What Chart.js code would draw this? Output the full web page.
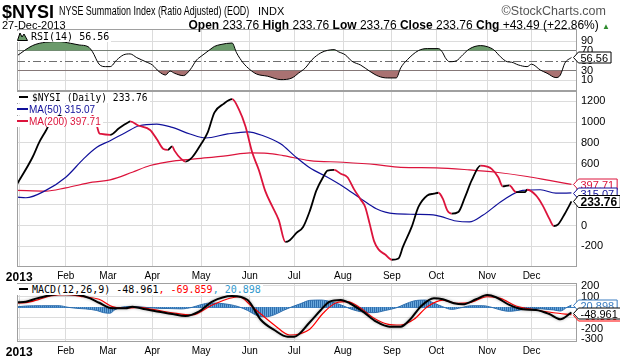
<!DOCTYPE html>
<html>
<head>
<meta charset="utf-8">
<script src="https://cdn.jsdelivr.net/npm/chart.js@4.4.1/dist/chart.umd.min.js"></script>
<style>
  body { margin: 0; width: 620px; height: 360px; background: #fff; overflow: hidden; position: relative; font-family: "Liberation Sans", Arial, sans-serif; }
  canvas { position: absolute; left: 0; top: 0; }
  .t { position: absolute; white-space: nowrap; line-height: 1; z-index: 5; }
  .lg { position: absolute; left: 17px; white-space: nowrap; font: 10px "DejaVu Sans Mono", monospace; line-height: 11px; background: #fff; padding-right: 2px; z-index: 5; }
  .lg.p { font: 10px "Liberation Sans", Arial, sans-serif; line-height: 11px; }
  .dash { display: inline-block; height: 2px; vertical-align: 3px; }
</style>
</head>
<body>
<canvas id="rsi" width="620" height="360"></canvas>
<canvas id="main" width="620" height="360"></canvas>
<canvas id="macd" width="620" height="360"></canvas>

<div class="t" style="left:2px;top:3px;font-weight:bold;font-size:18px;">$NYSI</div>
<div class="t" style="left:59px;top:5px;font-size:12px;transform:scaleX(0.745);transform-origin:0 0;">NYSE Summation Index (Ratio Adjusted) (EOD)</div>
<div class="t" style="left:258px;top:6px;font-size:11px;">INDX</div>
<div class="t" style="right:14px;top:5px;font-size:12.5px;color:#555;">&copy;StockCharts.com</div>
<div class="t" style="left:2px;top:20px;font-size:11px;">27-Dec-2013</div>
<div class="t" style="right:10px;top:19px;font-size:12px;"><b>Open</b> 233.76 <b>High</b> 233.76 <b>Low</b> 233.76 <b>Close</b> 233.76 <b>Chg</b> +43.49 (+22.86%) <span style="color:#2e8b2e;font-size:8px;">&#9650;</span></div>

<div class="lg" style="top:31px;"><svg width="11" height="9" style="vertical-align:-1px;margin-right:3px"><polygon points="0.5,8.5 3,1 5,5 7,2 10.5,8.5" fill="#6b9b6b" stroke="#000" stroke-width="1"/></svg>RSI(14) 56.56</div>
<div class="lg" style="top:92px;font-size:9.6px;"><span class="dash" style="width:9px;background:#000;margin:0 4px 0 2px;"></span>$NYSI (Daily) 233.76</div>
<div class="lg p" style="top:104px;color:#10109a;"><span class="dash" style="width:11px;background:#10109a;margin-right:1px;"></span>MA(50) 315.07</div>
<div class="lg p" style="top:115.5px;color:#dc143c;"><span class="dash" style="width:11px;background:#dc143c;margin-right:1px;"></span>MA(200) 397.71</div>
<div class="lg" style="top:284px;"><span class="dash" style="width:9px;background:#000;margin:0 4px 0 2px;"></span>MACD(12,26,9) -48.961<span style="color:#ff0000">, -69.859</span><span style="color:#3399cc">, 20.898</span></div>

<script>
// trading-day index (0 = 2 Jan 2013) of each month start
const monthStarts = [0, 21, 40, 60, 82, 104, 124, 146, 168, 188, 211, 231];
const monthLabels = ["2013", "Feb", "Mar", "Apr", "May", "Jun", "Jul", "Aug", "Sep", "Oct", "Nov", "Dec"];

const priceTicks = [-200, 0, 200, 400, 600, 800, 1000, 1200];
const rsiTicks = [10, 30, 50, 70, 90];
const macdTicks = [-300, -200, -100, 0, 100, 200];

// $NYSI daily (sampled)
const priceDays = [-1, 6, 9, 12, 14, 18, 23, 27, 31, 35, 36, 37, 41, 45, 49, 50, 54, 59, 62, 65,
  67, 69, 70, 73, 75, 78, 82, 85, 88, 92, 96, 99, 102, 105, 108, 111, 114, 117, 120, 122,
  125, 128, 131, 134, 137, 139, 142, 145, 148, 151, 154, 156, 158, 160, 162, 165, 168, 171, 173, 177,
  180, 184, 187, 189, 191, 193, 195, 198, 201, 204, 208, 211, 213, 216, 218, 221, 224, 228, 229, 233,
  236, 239, 241, 243, 246, 249];
const priceVals = [400, 660, 804, 916, 996, 1060, 1110, 1140, 1130, 964, 895, 885, 877, 940, 996, 1006, 964, 923, 836, 740,
  731, 765, 724, 644, 618, 660, 788, 900, 1092, 1173, 1221, 1125, 960, 710, 540, 330, 190, 55, -158, -141,
  -71, -13, 140, 340, 467, 532, 538, 500, 467, 350, 250, 180, 19, -150, -230, -280, -330, -317, -206, -10,
  180, 291, 308, 317, 260, 147, 115, 131, 275, 436, 580, 570, 548, 467, 378, 388, 323, 323, 346, 291,
  195, 67, -4, 12, 115, 233.76];

const ma50Days = [-1, 3, 12, 21, 29, 35, 41, 48, 54, 62, 69, 77, 84, 94, 103, 110, 118, 124, 131, 139,
  146, 154, 161, 169, 179, 188, 197, 203, 209, 218, 227, 235, 242, 249];
const ma50Vals = [275, 269, 340, 467, 644, 756, 820, 900, 964, 981, 948, 885, 846, 885, 906, 868, 788, 676, 558, 467,
  378, 260, 163, 115, 109, 99, 44, 35, 99, 243, 340, 346, 313, 315.07];

const ma200Days = [-1, 12, 21, 33, 41, 51, 59, 71, 82, 94, 104, 112, 119, 131, 146, 161, 172, 188, 203, 215, 229, 239, 249];
const ma200Vals = [340, 333, 365, 419, 442, 515, 580, 628, 650, 676, 702, 698, 676, 628, 612, 589, 563, 558, 538, 515, 474, 436, 397.71];

const rsiDays = [-1, 6, 12, 18, 23, 27, 31, 33, 36, 39, 41, 44, 47, 50, 53, 57, 60, 63, 66, 68,
  70, 74, 77, 80, 82, 86, 88, 91, 96, 98, 101, 104, 107, 112, 118, 123, 126, 129, 132, 136,
  139, 142, 144, 147, 150, 154, 158, 162, 166, 170, 172, 175, 180, 184, 189, 191, 192, 194, 197, 200,
  203, 208, 211, 214, 217, 220, 222, 225, 229, 231, 235, 238, 242, 244, 246, 249];
const rsiVals = [60, 80.7, 87.6, 88.8, 85.5, 82, 78.6, 68.5, 43, 38, 38, 51.6, 61.8, 63.8, 56.3, 48, 41.5, 28, 21, 29,
  24.6, 19.7, 31.3, 51.6, 59, 72.5, 79, 83, 86, 66, 45.5, 32, 23, 18.5, 11.6, 15, 25, 35.4, 52, 66,
  71, 72.5, 68, 62, 49, 41, 28.7, 18.5, 15, 15, 35.4, 52, 70.5, 74.6, 74.6, 66, 57, 48, 49.6, 62,
  74, 80.7, 78.6, 72, 58, 48, 47, 41.5, 38, 43, 31, 24.6, 15.7, 21, 45, 56.56];

const macdDays = [-1, 3, 8, 11, 18, 27, 32, 36, 42, 48, 51, 57, 63, 69, 75, 81, 87, 96, 103, 109,
  115, 121, 124, 131, 136, 140, 145, 149, 155, 161, 167, 172, 176, 181, 187, 191, 196, 200, 206, 211,
  215, 221, 227, 233, 239, 244, 249];
const macdVals = [47, 53, 84, 99, 125, 115, 84, 43, -9, -9, 6, -19, -41, -63, -82, -41, 53, 106, 68, -119,
  -213, -276, -276, -140, -25, 53, 68, 38, -41, -135, -182, -182, -119, 6, 84, 75, 38, 28, 75, 115,
  94, 22, -19, -25, -63, -113, -48.961];

const signalDays = [-1, 3, 9, 14, 21, 29, 36, 42, 47, 54, 60, 69, 78, 87, 99, 105, 115, 122, 131, 137,
  143, 148, 154, 160, 166, 172, 178, 184, 191, 197, 203, 211, 217, 224, 233, 241, 249];
const signalVals = [40, 43, 75, 106, 118, 99, 75, 6, -9, 0, -19, -51, -72, 22, 99, 6, -166, -260, -205, -56,
  43, 53, -9, -103, -157, -166, -113, 6, 68, 38, 43, 99, 84, 12, -25, -51, -69.859];

const histDays = [-1, 3, 10, 18, 22, 26, 30, 35, 38, 41, 43, 46, 50, 54, 58, 63, 68, 73, 78, 82,
  86, 90, 95, 99, 103, 107, 111, 115, 119, 123, 127, 131, 136, 141, 146, 150, 155, 160, 165, 170,
  174, 178, 183, 187, 191, 195, 199, 204, 209, 213, 217, 221, 226, 231, 236, 241, 244, 247, 249];
const histVals = [5, 12, 15, 15, 0, -10, -15, -30, -50, -55, -25, 0, 8, 5, -3, -10, -12, -15, 0, 25,
  40, 38, 25, 5, -30, -75, -90, -70, -30, 5, 35, 65, 68, 50, 15, -20, -45, -50, -30, -5,
  30, 60, 68, 40, 5, -20, -5, 15, 15, 0, -25, -38, -25, -10, -15, -25, -35, 0, 20.898];

const RED = "#dc143c";
const BLUE = "#10109a";
const GRID = "#dcdcdc";
const last = (a) => a[a.length - 1];
const pts = (d, v) => d.map((x, i) => ({ x: x, y: v[i] }));

Chart.defaults.font.family = '"Liberation Sans", Arial, sans-serif';
Chart.defaults.color = "#000";

function xAxis(showLabels) {
  return {
    type: "linear",
    min: -1,
    max: 251.5,
    afterBuildTicks: (s) => { s.ticks = monthStarts.map((v) => ({ value: v })); },
    afterFit: (s) => { s.height = showLabels ? 16 : 0; },
    grid: { color: GRID, drawTicks: false },
    border: { display: false },
    ticks: {
      display: showLabels,
      autoSkip: false,
      maxRotation: 0,
      padding: 3,
      callback: (v) => monthLabels[monthStarts.indexOf(v)],
      font: (c) => (c.index === 0 ? { size: 12, weight: "bold" } : { size: 10 }),
    },
  };
}

function yAxis(min, max, ticks, gridColor) {
  return {
    position: "right",
    min: min,
    max: max,
    afterBuildTicks: (s) => { s.ticks = ticks.map((v) => ({ value: v })); },
    afterFit: (s) => { s.width = 43; },
    grid: { color: gridColor, drawTicks: false },
    border: { display: false },
    ticks: { padding: 4, autoSkip: false, font: { size: 11 }, callback: (v) => String(v) },
  };
}

const frame = {
  id: "frame",
  afterDraw(chart) {
    const a = chart.chartArea, ctx = chart.ctx;
    ctx.save();
    ctx.strokeStyle = "#a0a0a0";
    ctx.lineWidth = 1;
    ctx.strokeRect(a.left + 0.5, a.top + 0.5, a.right - a.left - 1, a.bottom - a.top - 1);
    ctx.restore();
  },
};

function lastBoxes(items) {
  return {
    id: "lastBoxes",
    afterDraw(chart) {
      const ctx = chart.ctx, y = chart.scales.y;
      items.forEach((it) => {
        const py = Math.round(y.getPixelForValue(it.value)) + 0.5;
        ctx.save();
        ctx.font = (it.bold ? "bold 12px" : "11px") + ' "Liberation Sans", Arial';
        const w = ctx.measureText(it.text).width + 5;
        const h = it.bold ? 12 : 11;
        const x0 = 573.5, x1 = 578.5;
        ctx.beginPath();
        ctx.moveTo(x0, py);
        ctx.lineTo(x1, py - h / 2);
        ctx.lineTo(x1 + w, py - h / 2);
        ctx.lineTo(x1 + w, py + h / 2);
        ctx.lineTo(x1, py + h / 2);
        ctx.closePath();
        ctx.fillStyle = "#fff";
        ctx.fill();
        ctx.strokeStyle = it.color;
        ctx.lineWidth = 1;
        ctx.stroke();
        ctx.fillStyle = it.color;
        ctx.textBaseline = "middle";
        ctx.fillText(it.text, x1 + 2, py + 1);
        ctx.restore();
      });
    },
  };
}

const midLine = {
  id: "midLine",
  beforeDatasetsDraw(chart) {
    const a = chart.chartArea, ctx = chart.ctx;
    const py = Math.round(chart.scales.y.getPixelForValue(50)) + 0.5;
    ctx.save();
    ctx.strokeStyle = "#707070";
    ctx.setLineDash([8, 3, 2, 3]);
    ctx.beginPath();
    ctx.moveTo(a.left, py);
    ctx.lineTo(a.right, py);
    ctx.stroke();
    ctx.restore();
  },
};

const shadow = {
  id: "shadow",
  beforeDatasetDraw(chart, args) {
    if (!chart.data.datasets[args.index].shadow) return;
    chart.ctx.save();
    chart.ctx.shadowColor = "rgba(0,0,0,0.35)";
    chart.ctx.shadowBlur = 3;
  },
  afterDatasetDraw(chart, args) {
    if (chart.data.datasets[args.index].shadow) chart.ctx.restore();
  },
};

function stripes() {
  const c = document.createElement("canvas");
  c.width = 2;
  c.height = 1;
  const g = c.getContext("2d");
  g.fillStyle = "#2f6fae";
  g.fillRect(0, 0, 1, 1);
  g.fillStyle = "#6aa8dc";
  g.fillRect(1, 0, 1, 1);
  return g.createPattern(c, "repeat");
}

const base = {
  responsive: false,
  animation: false,
  events: [],
  plugins: { legend: { display: false }, tooltip: { enabled: false } },
  elements: { point: { radius: 0 }, line: { cubicInterpolationMode: "monotone" } },
};

// RSI
new Chart(document.getElementById("rsi"), {
  type: "line",
  data: {
    datasets: [
      {
        data: pts(rsiDays, rsiVals),
        borderColor: "#000",
        borderWidth: 1,
        fill: { target: { value: 70 }, above: "#6b9b6b", below: "rgba(0,0,0,0)" },
      },
      {
        data: pts(rsiDays, rsiVals),
        borderWidth: 0,
        borderColor: "rgba(0,0,0,0)",
        fill: { target: { value: 30 }, above: "rgba(0,0,0,0)", below: "#a97272" },
      },
    ],
  },
  options: {
    ...base,
    layout: { padding: { top: 29, left: 17, right: 0, bottom: 269 } },
    scales: {
      x: xAxis(false),
      y: yAxis(-11.5, 114.4, rsiTicks, (c) =>
        c.tick.value === 70 || c.tick.value === 30 ? "#7a7a7a" : c.tick.value === 50 ? "rgba(0,0,0,0)" : GRID),
    },
  },
  plugins: [midLine, frame, lastBoxes([{ value: last(rsiVals), text: last(rsiVals).toFixed(2), color: "#000" }])],
});

// price panel
new Chart(document.getElementById("main"), {
  type: "line",
  data: {
    datasets: [
      {
        data: pts(priceDays, priceVals),
        borderWidth: 1.8,
        borderColor: "#000",
        segment: { borderColor: (c) => (c.p1.parsed.y < c.p0.parsed.y ? RED : "#000") },
      },
      { data: pts(ma50Days, ma50Vals), borderWidth: 1.2, borderColor: BLUE },
      { data: pts(ma200Days, ma200Vals), borderWidth: 1.2, borderColor: RED },
    ],
  },
  options: {
    ...base,
    layout: { padding: { top: 91, left: 17, right: 0, bottom: 77 } },
    scales: { x: xAxis(true), y: yAxis(-400, 1300, priceTicks, GRID) },
  },
  plugins: [frame, lastBoxes([
    { value: last(ma200Vals), text: last(ma200Vals).toFixed(2), color: RED },
    { value: last(ma50Vals), text: last(ma50Vals).toFixed(2), color: BLUE },
    { value: last(priceVals), text: last(priceVals).toFixed(2), color: "#000", bold: true },
  ])],
});

// MACD
new Chart(document.getElementById("macd"), {
  type: "line",
  data: {
    datasets: [
      { data: pts(macdDays, macdVals), borderWidth: 2, borderColor: "#000", shadow: true },
      { data: pts(signalDays, signalVals), borderWidth: 1.2, borderColor: "#ff0000" },
      {
        data: pts(histDays, histVals),
        borderWidth: 1,
        borderColor: "#2f6fae",
        backgroundColor: stripes(),
        fill: "origin",
      },
    ],
  },
  options: {
    ...base,
    layout: { padding: { top: 283, left: 17, right: 0, bottom: 2 } },
    scales: {
      x: xAxis(true),
      y: yAxis(-325.5, 228, macdTicks, (c) => (c.tick.value === 0 ? "#3d7fc0" : GRID)),
    },
  },
  plugins: [shadow, frame, lastBoxes([
    { value: last(signalVals), text: last(signalVals).toFixed(3), color: "#ff0000" },
    { value: last(histVals), text: last(histVals).toFixed(3), color: "#3a7cc0" },
    { value: last(macdVals), text: last(macdVals).toFixed(3), color: "#000" },
  ])],
});
</script>
</body>
</html>
